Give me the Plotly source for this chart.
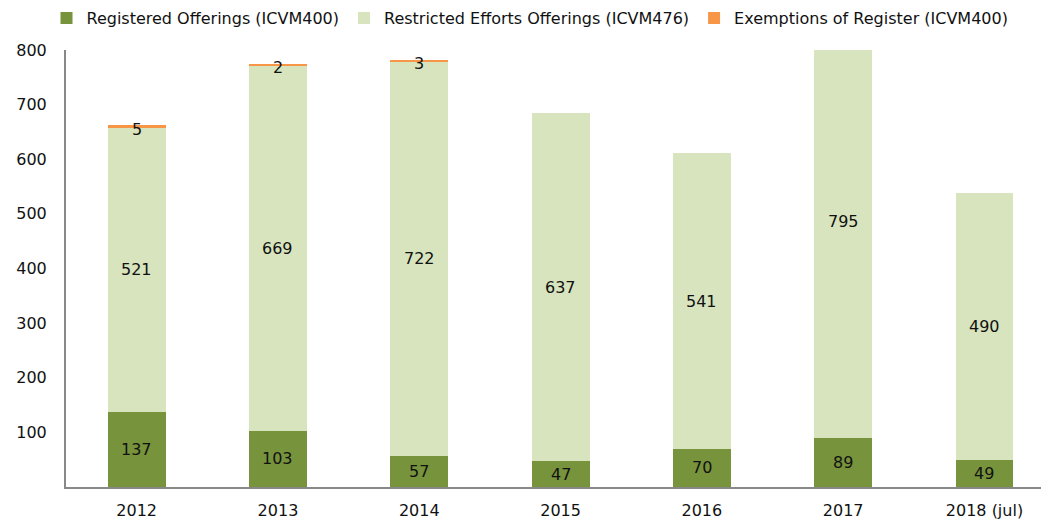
import plotly.graph_objects as go

years = ["2012", "2013", "2014", "2015", "2016", "2017", "2018 (jul)"]
registered = [137, 103, 57, 47, 70, 89, 49]
restricted = [521, 669, 722, 637, 541, 795, 490]
exemptions = [5, 2, 3, 0, 0, 0, 0]
y_ticks = [100, 200, 300, 400, 500, 600, 700, 800]

C_REG = "#77933C"
C_RES = "#D7E4BD"
C_EXE = "#F79646"
FONT = "DejaVu Sans"
NUM_SIZE = 16

fig = go.Figure()
fig.add_trace(go.Bar(x=years, y=registered, name="Registered Offerings (ICVM400)",
                     marker=dict(color=C_REG, line=dict(width=0))))
fig.add_trace(go.Bar(x=years, y=restricted, name="Restricted Efforts Offerings (ICVM476)",
                     marker=dict(color=C_RES, line=dict(width=0))))
fig.add_trace(go.Bar(x=years, y=exemptions, name="Exemptions of Register (ICVM400)",
                     marker=dict(color=C_EXE, line=dict(width=0))))

annotations = []
for i, yr in enumerate(years):
    annotations.append(dict(x=i, y=registered[i] / 2, text=str(registered[i]),
                            showarrow=False, font=dict(family=FONT, size=NUM_SIZE, color="#111")))
    annotations.append(dict(x=i, y=registered[i] + restricted[i] / 2, text=str(restricted[i]),
                            showarrow=False, font=dict(family=FONT, size=NUM_SIZE, color="#111")))
    if exemptions[i] > 0:
        annotations.append(dict(x=i, y=registered[i] + restricted[i] + exemptions[i] / 2,
                                text=str(exemptions[i]), showarrow=False, yshift=-3,
                                font=dict(family=FONT, size=NUM_SIZE, color="#111")))

fig.update_layout(
    barmode="stack",
    bargap=0.59,
    width=1041, height=523,
    margin=dict(l=66, r=0, t=50, b=36),
    paper_bgcolor="white", plot_bgcolor="white",
    font=dict(family=FONT, size=16, color="#111"),
    legend=dict(orientation="h", x=-0.02, xanchor="left", y=1.112, yanchor="top",
                font=dict(family=FONT, size=16), traceorder="normal",
                tracegroupgap=0),
    annotations=annotations,
    showlegend=True,
)
fig.update_xaxes(type="category", range=[-0.5, 6.4], showline=True, linecolor="#888",
                 linewidth=2, ticks="outside", ticklen=8, tickcolor="rgba(0,0,0,0)",
                 showgrid=False, automargin=False,
                 tickfont=dict(family=FONT, size=NUM_SIZE))
fig.update_yaxes(range=[0, 800], tickvals=y_ticks, showline=True, linecolor="#888",
                 linewidth=2, showgrid=False, zeroline=False, ticks="outside",
                 ticklen=14, tickcolor="rgba(0,0,0,0)", automargin=False,
                 tickfont=dict(family=FONT, size=NUM_SIZE))

fig.write_html("out.html", config={"displayModeBar": False},
               post_script="document.body.style.margin='0';")
